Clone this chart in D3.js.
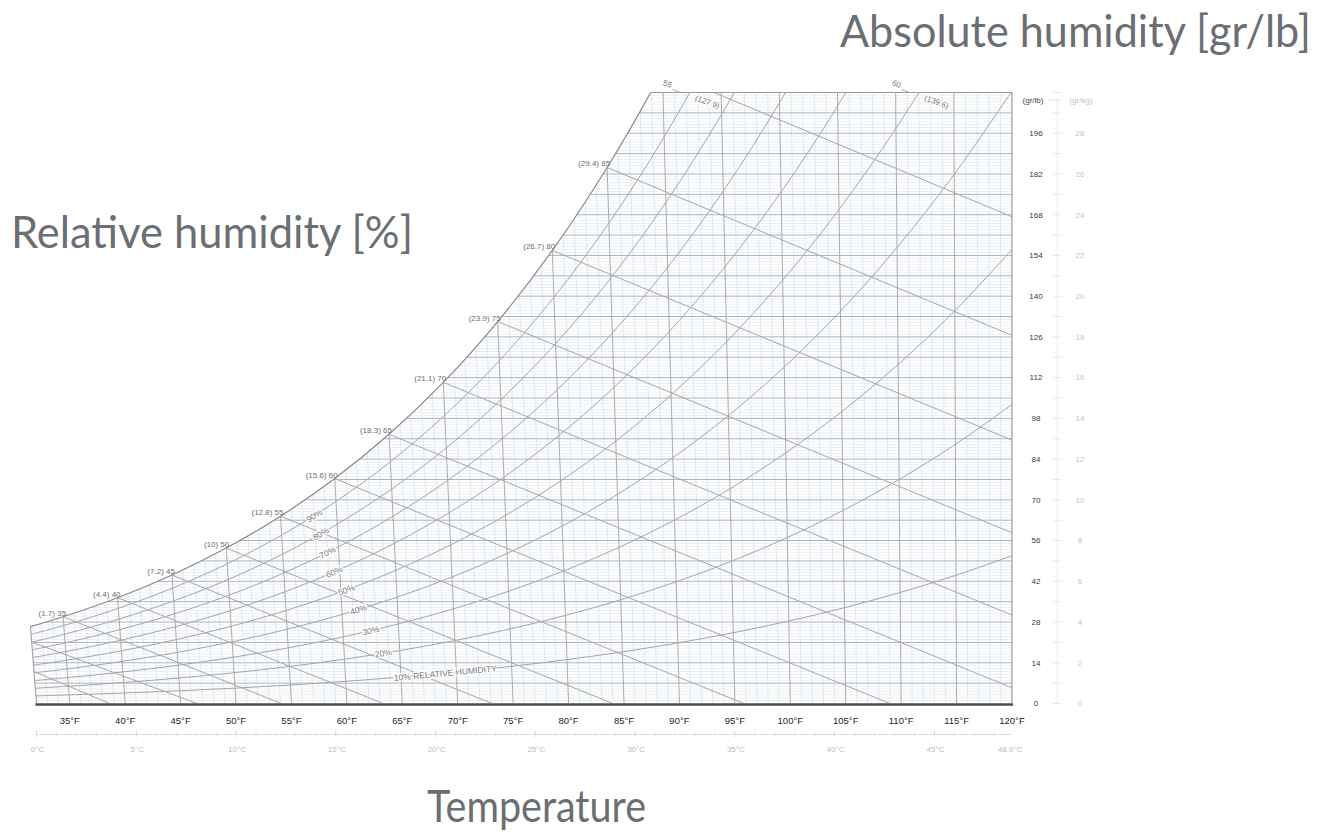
<!DOCTYPE html>
<html>
<head>
<meta charset="utf-8">
<script src="https://cdn.jsdelivr.net/npm/d3@7"></script>
<style>
  body { margin: 0; background: #fff; }
  svg { display: block; font-family: "Liberation Sans", Arial, sans-serif; }
  .title { font-family: Lato, "Open Sans", sans-serif; fill: #6b6f73; font-size: 44px; font-weight: 400; }
</style>
</head>
<body>
<script>
'use strict';

// saturation vapour pressure [psia] at dry-bulb temperature [°F]
let satTempF = [32, 35, 40, 45, 50, 55, 60, 65, 70, 75, 80, 85, 90, 95, 100, 105, 110, 115, 120];
let satPressure = [0.08865, 0.09998, 0.12173, 0.14756, 0.17812, 0.21413, 0.25638, 0.30579, 0.36334,
  0.43016, 0.50745, 0.59659, 0.69904, 0.81643, 0.95052, 1.1033, 1.2767, 1.4730, 1.6945];

let rhLevels = [10, 20, 30, 40, 50, 60, 70, 80, 90];
let rhLabelTempF = [69, 63.5, 62.5, 61.5, 60.5, 59.5, 59, 58.5, 58];

// wet-bulb lines: from the saturation curve down to the 0 gr/lb line
let wetBulbF = [35, 40, 45, 50, 55, 60, 65, 70, 75, 80, 85];
let wetBulbC = ['1.7', '4.4', '7.2', '10', '12.8', '15.6', '18.3', '21.1', '23.9', '26.7', '29.4'];
let wetBulbEndF = [54.1, 63.3, 73.1, 84.0, 95.8, 109.0, 123.5, 139.5, 157.5, 177.6, 200.1];
// unlabelled ones: [start °F, start gr/lb, end °F]
let extraWetBulb = [[32, 11, 38.6], [32, 21.1, 46.5], [90, 217.4, 225.3]];

// enthalpy marks on the top edge
let enthalpyBtu = ['55', '60'];
let enthalpyKj = ['(127.9)', '(139.6)'];
let enthalpyTopF = [91.5, 111.2];

let tempTicksF = [35, 40, 45, 50, 55, 60, 65, 70, 75, 80, 85, 90, 95, 100, 105, 110, 115, 120];
let tempTicksC = [0, 5, 10, 15, 20, 25, 30, 35, 40, 45];
let grLbTicks = [0, 14, 28, 42, 56, 70, 84, 98, 112, 126, 140, 154, 168, 182, 196];
let grKgTicks = [0, 2, 4, 6, 8, 10, 12, 14, 16, 18, 20, 22, 24, 26, 28];

let width = 1322;
let height = 834;

let x = d3.scaleLinear().domain([32, 120]).range([36.5, 1012]);
let y = d3.scaleLinear().domain([0, 210]).range([703.5, 92.5]);
let lean = 0.0009; // dry-bulb lines lean left as humidity rises

let pos = (t, w) => [x(t) - lean * (120 - t) * (y(0) - y(w)), y(w)];
let grains = (pv) => 7000 * 0.622 * pv / (14.696 - pv);

let pAt = (t) => {
  let i = Math.max(0, Math.min(d3.bisectRight(satTempF, t) - 1, satTempF.length - 2));
  let f = (t - satTempF[i]) / (satTempF[i + 1] - satTempF[i]);
  return Math.exp(Math.log(satPressure[i]) * (1 - f) + Math.log(satPressure[i + 1]) * f);
};

let line = d3.line().curve(d3.curveCatmullRom);

let svg = d3.select('body').append('svg')
    .attr('width', width)
    .attr('height', height);

let satPts = satTempF.map((t, i) => pos(t, grains(satPressure[i])));
let satArea = line(satPts) + 'L' + pos(120, 0) + 'L' + pos(32, 0) + 'Z';

let defs = svg.append('defs');
defs.append('clipPath').attr('id', 'frame')
  .append('rect')
    .attr('x', 0).attr('y', y(210))
    .attr('width', x(120)).attr('height', y(0) - y(210));
defs.append('clipPath').attr('id', 'sat')
  .append('path').attr('d', satArea);

let chart = svg.append('g').attr('clip-path', 'url(#frame)')
  .append('g').attr('clip-path', 'url(#sat)');

let seg = (g, data, a, b, stroke, sw) => {
  g.selectAll(null)
    .data(data)
    .enter().append('line')
      .attr('x1', d => a(d)[0]).attr('y1', d => a(d)[1])
      .attr('x2', d => b(d)[0]).attr('y2', d => b(d)[1])
      .attr('stroke', stroke)
      .attr('stroke-width', sw);
};

// fine graph-paper grid
let fineW = d3.range(0, 211).filter(w => w % 7 !== 0);
let fineT = d3.range(32, 121).filter(t => t % 5 !== 0);
seg(chart, fineW, w => [0, y(w)], w => [x(120), y(w)], '#dce5ee', 0.6);
seg(chart, fineT, t => pos(t, 0), t => pos(t, 210), '#d3dbe4', 0.6);

// main grid
seg(chart, d3.range(7, 211, 7), w => [0, y(w)], w => [x(120), y(w)], '#a9b3c1', 1);
seg(chart, tempTicksF, t => pos(t, 0), t => pos(t, 210), '#a3a3a3', 0.9);

// relative humidity curves
chart.selectAll('.rh')
  .data(rhLevels)
  .enter().append('path')
    .attr('class', 'rh')
    .attr('fill', 'none')
    .attr('stroke', '#a4a4a4')
    .attr('stroke-width', 1)
    .attr('d', rh => line(satTempF.map((t, i) => pos(t, grains(rh / 100 * satPressure[i])))));

// wet-bulb lines
seg(chart, wetBulbF.map((t, i) => i),
  i => pos(wetBulbF[i], grains(satPressure[satTempF.indexOf(wetBulbF[i])])),
  i => pos(wetBulbEndF[i], 0), '#a6a6a6', 1);
seg(chart, extraWetBulb, d => pos(d[0], d[1]), d => pos(d[2], 0), '#a6a6a6', 1);

// saturation curve and frame
svg.append('g').attr('clip-path', 'url(#frame)')
  .append('path')
    .attr('fill', 'none')
    .attr('stroke', '#8a8a8a')
    .attr('stroke-width', 1.2)
    .attr('d', line(satPts));

svg.append('g').attr('clip-path', 'url(#sat)')
  .append('line')
    .attr('x1', 0).attr('x2', x(120))
    .attr('y1', y(210)).attr('y2', y(210))
    .attr('stroke', '#9a9a9a');

seg(svg, [0], () => pos(32, 0), () => pos(32, grains(satPressure[0])), '#9a9a9a', 1);
seg(svg, [0], () => [x(120), y(210)], () => [x(120), y(0)], '#9a9a9a', 1);
seg(svg, [0], () => [x(32) - 1, y(0) + 1], () => [x(120) + 1, y(0) + 1], '#4d4d4d', 2.5);

let halo = (sel) => sel
    .attr('stroke', '#fff')
    .attr('stroke-width', 2.5)
    .attr('paint-order', 'stroke');

// relative humidity labels
svg.selectAll('.rhLabel')
  .data(rhLevels)
  .enter().append('text')
    .attr('class', 'rhLabel')
    .attr('font-size', 8.5)
    .attr('fill', '#777')
    .attr('text-anchor', 'middle')
    .attr('dy', '0.35em')
    .attr('transform', (rh, i) => {
      let t = rhLabelTempF[i];
      let p = pos(t, grains(rh / 100 * pAt(t)));
      let a = pos(t - 0.5, grains(rh / 100 * pAt(t - 0.5)));
      let b = pos(t + 0.5, grains(rh / 100 * pAt(t + 0.5)));
      let ang = Math.atan2(b[1] - a[1], b[0] - a[0]) * 180 / Math.PI;
      return 'translate(' + p + ') rotate(' + ang + ')';
    })
    .call(halo)
    .text(rh => rh === 10 ? '10% RELATIVE HUMIDITY' : rh + '%');

// wet-bulb labels on the saturation curve
svg.selectAll('.wbLabel')
  .data(wetBulbF)
  .enter().append('text')
    .attr('class', 'wbLabel')
    .attr('font-size', 8)
    .attr('fill', '#6e6e6e')
    .attr('text-anchor', 'end')
    .attr('x', t => pos(t, grains(satPressure[satTempF.indexOf(t)]))[0] + 3)
    .attr('y', t => pos(t, grains(satPressure[satTempF.indexOf(t)]))[1] - 1)
    .text((t, i) => '(' + wetBulbC[i] + ') ' + t);

// enthalpy marks above the top edge
let topPts = enthalpyTopF.map(t => pos(t, 210));
let eg = svg.selectAll('.enth')
  .data(topPts)
  .enter().append('g')
    .attr('class', 'enth')
    .attr('transform', d => 'translate(' + d + ')');
eg.append('line')
    .attr('x1', -8).attr('y1', -3).attr('x2', 0).attr('y2', 0)
    .attr('stroke', '#aaa');
eg.append('text')
    .attr('font-size', 8).attr('fill', '#777')
    .attr('text-anchor', 'middle')
    .attr('transform', 'translate(-14,-6) rotate(20)')
    .text((d, i) => enthalpyBtu[i]);
eg.append('text')
    .attr('font-size', 8).attr('fill', '#777')
    .attr('text-anchor', 'middle')
    .attr('transform', 'translate(26,12) rotate(20)')
    .call(halo)
    .text((d, i) => enthalpyKj[i]);

// dry-bulb axis, °F
svg.selectAll('.tf')
  .data(tempTicksF)
  .enter().append('text')
    .attr('class', 'tf')
    .attr('font-size', 9.5)
    .attr('fill', '#262626')
    .attr('text-anchor', 'middle')
    .attr('x', t => x(t))
    .attr('y', 724)
    .text(t => t + '°F');

// dry-bulb axis, °C
let cToF = c => c * 1.8 + 32;
seg(svg, [0], () => [x(32), 734.5], () => [x(120), 734.5], '#dedede', 1);
seg(svg, d3.range(0, 49), c => [x(cToF(c)), c % 5 ? 732.5 : 731], c => [x(cToF(c)), c % 5 ? 735.5 : 737], '#d6d6d6', 1);
svg.selectAll('.tc')
  .data(tempTicksC.concat([48.9]))
  .enter().append('text')
    .attr('class', 'tc')
    .attr('font-size', 8)
    .attr('fill', '#bdbdbd')
    .attr('text-anchor', 'middle')
    .attr('x', c => c === 48.9 ? x(120) - 2 : x(cToF(c)) + 1)
    .attr('y', 752)
    .text(c => c + '°C');

// humidity axes
svg.append('text')
    .attr('font-size', 8).attr('fill', '#444').attr('text-anchor', 'middle')
    .attr('x', 1033).attr('y', 103)
    .text('(gr/lb)');
svg.selectAll('.grlb')
  .data(grLbTicks)
  .enter().append('text')
    .attr('class', 'grlb')
    .attr('font-size', 8)
    .attr('fill', '#3a3a3a')
    .attr('text-anchor', 'middle')
    .attr('dy', '0.35em')
    .attr('x', 1036)
    .attr('y', w => y(w))
    .text(w => w);

seg(svg, [0], () => [1057, y(210) + 6], () => [1057, y(0)], '#ececec', 1);
seg(svg, d3.range(0, 211, 7), w => [1053, y(w)], w => [1061, y(w)], '#e6e6e6', 1);
seg(svg, [0], () => [1049, 100], () => [1061, 100], '#e0e0e0', 1);

svg.append('text')
    .attr('font-size', 8).attr('fill', '#c0c0c0').attr('text-anchor', 'middle')
    .attr('x', 1081).attr('y', 103)
    .text('(gr/kg)');
svg.selectAll('.grkg')
  .data(grKgTicks)
  .enter().append('text')
    .attr('class', 'grkg')
    .attr('font-size', 8)
    .attr('fill', '#c4c4c4')
    .attr('text-anchor', 'middle')
    .attr('dy', '0.35em')
    .attr('x', 1080)
    .attr('y', (g, i) => y(grLbTicks[i]))
    .text(g => g);

// titles
let titles = [
  { text: 'Absolute humidity [gr/lb]', x: 1311, y: 47, anchor: 'end', w: 471 },
  { text: 'Relative humidity [%]', x: 11, y: 248, anchor: 'start', w: 402 },
  { text: 'Temperature', x: 427, y: 822, anchor: 'start', w: 219 }
];
svg.selectAll('.title')
  .data(titles)
  .enter().append('text')
    .attr('class', 'title')
    .attr('x', d => d.x)
    .attr('y', d => d.y)
    .attr('text-anchor', d => d.anchor)
    .text(d => d.text)
    .each(function(d) {
      if (Math.abs(this.getComputedTextLength() - d.w) > 2) {
        d3.select(this).attr('textLength', d.w).attr('lengthAdjust', 'spacingAndGlyphs');
      }
    });
</script>
</body>
</html>
